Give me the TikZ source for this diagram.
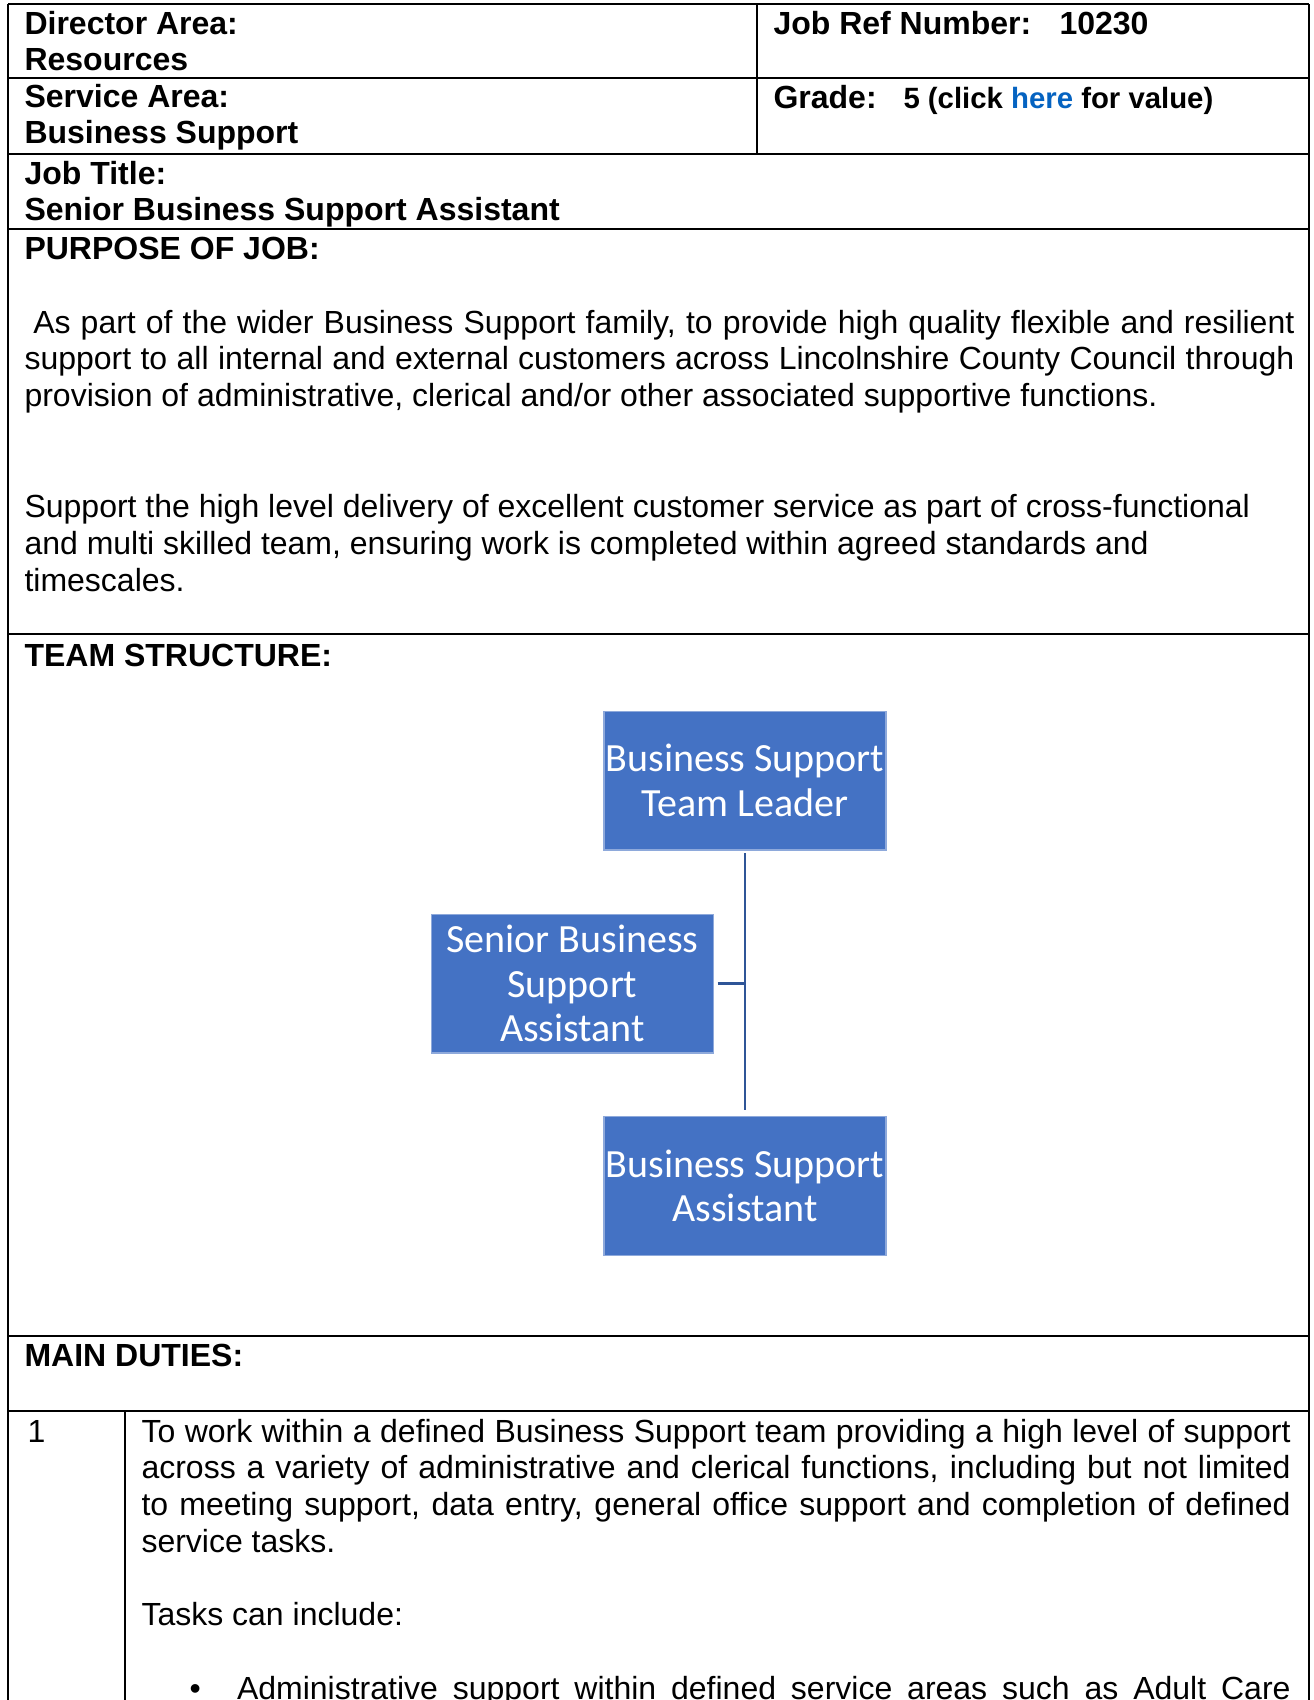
\documentclass[tikz,border=0pt]{standalone}
\usepackage{fontspec}
\setmainfont{Liberation Sans}
\newfontfamily\chartfont{Carlito}
\usepackage{xcolor}
\definecolor{boxblue}{HTML}{4472C4}
\definecolor{boxedge}{HTML}{8EA9DB}
\definecolor{linkblue}{HTML}{0563C1}
\definecolor{lineblue}{HTML}{2F5597}
\tikzset{
    rule/.style={line width=0.75pt},
    lbl/.style={anchor=base west, inner sep=0pt, font=\fontsize{12}{13.8}\selectfont},
    hdr/.style={lbl, font=\fontsize{12}{13.8}\selectfont\bfseries},
    hdrsmall/.style={lbl, font=\fontsize{11}{12.65}\selectfont\bfseries},
    role/.style={fill=boxblue, draw=boxedge, line width=0.4pt, text=white, align=center,
        minimum width=105.75pt, minimum height=52.1pt, inner sep=0pt,
        font=\chartfont\fontsize{15}{16.6}\selectfont},
    conn/.style={draw=lineblue, line width=1.1pt}
}

\begin{document}
\begin{tikzpicture}[x=0.375pt, y=-0.375pt]
        \useasboundingbox (0, 0) rectangle (1314, 1700);
        \foreach \y in {4, 78, 154, 229, 634, 1336, 1411} {
                \draw[rule] (8, \y) -- (1309, \y);
            }
        \foreach \x in {8, 1309} {
                \draw[rule] (\x, 4) -- (\x, 1700);
            }
        \draw[rule] (757, 4) -- (757, 154);
        \draw[rule] (125, 1411) -- (125, 1700);

        \node[hdr] (dirlbl) at (24, 34.5) {Director Area:};
        \node[hdr] (dirval) at (24, 70.5) {Resources};
        \node[hdr] (reflbl) at (773, 34.5) {Job Ref Number:};
        \node[hdr] (refval) at (1059, 34.5) {10230};
        \node[hdr] (svclbl) at (24, 107) {Service Area:};
        \node[hdr] (svcval) at (24, 143) {Business Support};
        \node[hdr] (grdlbl) at (773, 108.5) {Grade:};
        \node[hdrsmall] (grdval) at (903, 108.5) {5 (click \textcolor{linkblue}{here} for value)};
        \node[hdr] (ttllbl) at (24, 184) {Job Title:};
        \node[hdr] (ttlval) at (24, 220.5) {Senior Business Support Assistant};
        \node[hdr] (purphd) at (24, 259) {PURPOSE OF JOB:};
        \node[lbl, text width=476.2pt, align=justify] (purp1) at (24, 333) {\hspace*{3.3pt}As part of the wider Business Support family, to provide high quality flexible and resilient\linebreak support to all internal and external customers across Lincolnshire County Council through\linebreak provision of administrative, clerical and/or other associated supportive functions.};
        \node[lbl, align=left] (purp2) at (24, 591) {Support the high level delivery of excellent customer service as part of cross-functional\\and multi skilled team, ensuring work is completed within agreed standards and\\timescales.};

        \node[hdr] (teamhd) at (24, 666) {TEAM STRUCTURE:};
        \node[role] (lead) at (745, 780.5) {Business Support\\Team Leader};
        \node[role] (senior) at (572.5, 983.5) {Senior Business\\Support\\Assistant};
        \node[role] (member) at (745, 1186) {Business Support\\Assistant};
        \draw[conn, shorten <=1.1pt, shorten >=2.2pt] (lead) -- (member);
        \draw[conn, shorten <=1.3pt] (senior.east) -- (senior.east -| lead.south);

        \node[hdr] (dutyhd) at (24, 1366) {MAIN DUTIES:};
        \node[lbl] (dutyno) at (27, 1442) {1};
        \node[lbl, text width=430.9pt, align=justify] (duty1) at (141, 1442) {To work within a defined Business Support team providing a high level of support\linebreak across a variety of administrative and clerical functions, including but not limited\linebreak to meeting support, data entry, general office support and completion of defined\linebreak service tasks.};
        \node[lbl] (tasks) at (141, 1625) {Tasks can include:};
        \node[lbl] (bullet) at (189, 1699) {\textbullet};
        \node[lbl] (task1) at (236.5, 1699) {\makebox[395.1pt][s]{Administrative support within defined service areas such as Adult Care}};
    \end{tikzpicture}
\end{document}
